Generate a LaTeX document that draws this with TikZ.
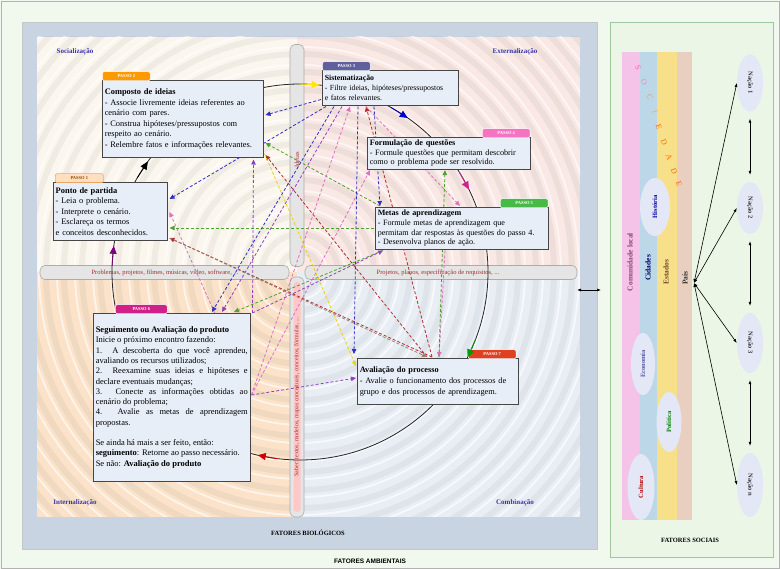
\documentclass[tikz,border=0pt]{standalone}
\usepackage{fontspec}
\setmainfont{Liberation Serif}
\newfontfamily\sansbold{Liberation Sans}
\usetikzlibrary{arrows.meta,calc,shapes.geometric,shadows}
\definecolor{bgmint}{HTML}{F1F8EE}
\definecolor{panelblue}{HTML}{C9D4E3}
\definecolor{qtl}{HTML}{FCF7EE}
\definecolor{qtr}{HTML}{FAE8E4}
\definecolor{qbl}{HTML}{FBE2C8}
\definecolor{qbr}{HTML}{E9EEF5}
\definecolor{boxfill}{HTML}{E8EEF8}
\definecolor{rightbg}{HTML}{EBF6E7}
\definecolor{labelblue}{HTML}{3A36A8}
\definecolor{barred}{HTML}{A03030}
\definecolor{ellfill}{HTML}{E3E7F6}
\definecolor{lblue}{HTML}{3030C0}
\definecolor{lpink}{HTML}{E070C0}
\definecolor{lgreen}{HTML}{50A030}
\definecolor{lred}{HTML}{B03030}
\definecolor{lpurple}{HTML}{9040C0}
\definecolor{lyellow}{HTML}{E8D020}
\definecolor{lbrown}{HTML}{A08070}
\definecolor{stpink}{HTML}{F5C2E8}
\definecolor{stblue}{HTML}{BCD8E8}
\definecolor{styellow}{HTML}{F8E08A}
\definecolor{stbeige}{HTML}{E8CFC0}
\pgfdeclarelayer{bg}
\pgfdeclarelayer{lines}
\pgfsetlayers{bg,lines,main}
\begin{document}
\begin{tikzpicture}[x=1pt,y=-1pt]
\tikzset{
  qlabel/.style={font=\fontsize{7}{8}\selectfont\bfseries, text=labelblue},
  bar/.style={draw=gray!65, fill=gray!20, rounded corners=5pt, line width=0.6pt},
  bartext/.style={font=\fontsize{6.5}{7}\selectfont, text=barred},
  stepbox/.style={draw=gray!55!black, line width=0.5pt, fill=boxfill, anchor=north west, inner sep=2.5pt, align=left, font=\fontsize{8.3}{10.3}\selectfont, drop shadow={opacity=0.25, shadow xshift=1.2pt, shadow yshift=-1.2pt}},
  tag/.style={rounded corners=2pt, draw=white, line width=0.6pt, minimum width=48pt, minimum height=9pt, inner sep=0pt, font=\fontsize{4.5}{5}\selectfont\bfseries, text=white, anchor=south west},
  conn/.style={dash pattern=on 3pt off 2pt, line width=0.8pt, -{Triangle[length=5pt,width=4.5pt]}},
  cirtip/.style={line width=0.8pt, -{Triangle[length=8pt,width=7pt]}},
  ell/.style={ellipse, fill=ellfill, inner sep=1pt, font=\fontsize{6.5}{7}\selectfont\bfseries},
  arr/.style={line width=0.6pt, {Latex[length=4pt,width=3pt]}-{Latex[length=4pt,width=3pt]}},
  stlabel/.style={rotate=90, font=\fontsize{7.5}{8}\selectfont\bfseries},
  soc/.style={rotate=-70, font=\fontsize{8}{8}\selectfont},
  fat/.style={font=\fontsize{6.5}{7}\selectfont\bfseries}
}
\useasboundingbox (0,0) rectangle (780,569);
\begin{pgfonlayer}{bg}
\fill[bgmint] (0,0) rectangle (780,569);
\draw[gray!60, line width=0.6pt] (1,1) rectangle (779,568);
\fill[panelblue] (22,22) rectangle (597,549);
\draw[gray!45] (22,22) rectangle (597,549);
\begin{scope}
\clip (37,37) rectangle (580,517);
\fill[qtl] (37,37) rectangle (297,272);
\fill[qtr] (297,37) rectangle (580,272);
\fill[qbl] (37,272) rectangle (297,517);
\fill[qbr] (297,272) rectangle (580,517);
\foreach \r in {20,38,...,430} \draw[gray, opacity=0.09, line width=6pt] (300,272) circle[radius=\r];
\foreach \r in {27,45,...,430} \draw[white, opacity=0.6, line width=2pt] (300,272) circle[radius=\r];
\end{scope}
\end{pgfonlayer}
\node[qlabel] (socl) at (75,52) {Socialização};
\node[qlabel] (extl) at (515,52) {Externalização};
\node[qlabel] (intl) at (75,503) {Internalização};
\node[qlabel] (coml) at (515,503) {Combinação};
\node[fat] (fbio) at (308,533) {FATORES BIOLÓGICOS};
\node[fat, font=\sansbold\fontsize{6.5}{7}\selectfont\bfseries] (famb) at (370,561) {FATORES AMBIENTAIS};
% ---------- bars and circle (background layer)
\begin{pgfonlayer}{bg}
\node[bar, minimum width=14pt, minimum height=222pt] (barT) at (297,155.5) {};
\node[bartext, rotate=90] (barTt) at (297,160) {Ideias};
\node[bar, minimum width=14pt, minimum height=240pt] (barB) at (297,397) {};
\fill[red!22, rounded corners=3pt] (293.5,282) rectangle (300.5,512);
\node[bartext, rotate=90, font=\fontsize{6}{7}\selectfont] (barBt) at (297,397) {Saber: textos, modelos, mapas conceituais, conceitos, fórmulas, ...};
\node[bar, minimum width=249pt, minimum height=14pt] (barL) at (164.5,272.5) {};
\node[bartext] (barLt) at (165,272.5) {Problemas, projetos, filmes, músicas, vídeo, software, ...};
\node[bar, minimum width=272pt, minimum height=14pt] (barR) at (441,272.5) {};
\node[bartext] (barRt) at (438,272.5) {Projetos, planos, especificação de requisitos, ...};
\coordinate (C) at (300,272);
\draw[black!85, line width=0.8pt] (C) circle[radius=188];
\end{pgfonlayer}
% ---------- boxes
\node[stepbox, font=\fontsize{8.4}{10.5}\selectfont, text width=156pt, minimum height=77pt] (comp) at (102,80) {\textbf{Composto de ideias}\\- Associe livremente ideias referentes ao\\cenário com pares.\\- Construa hipóteses/pressupostos com\\respeito ao cenário.\\- Relembre fatos e informações relevantes.};
\node[stepbox, font=\fontsize{7.8}{10}\selectfont, text width=131pt, minimum height=35pt] (sist) at (322,70) {\textbf{Sistematização}\\- Filtre ideias, hipóteses/pressupostos\\e fatos relevantes.};
\node[stepbox, font=\fontsize{8.2}{9.6}\selectfont, text width=158pt, minimum height=31pt] (form) at (367,137) {\textbf{Formulação de questões}\\- Formule questões que permitam descobrir\\como o problema pode ser resolvido.};
\node[stepbox, font=\fontsize{8.1}{9.8}\selectfont, text width=168pt, minimum height=42pt] (metas) at (375,207) {\textbf{Metas de aprendizagem}\\- Formule metas de aprendizagem que\\permitam dar respostas às questões do passo 4.\\- Desenvolva planos de ação.};
\node[stepbox, font=\fontsize{8.4}{10.5}\selectfont, text width=109pt, minimum height=58pt] (ponto) at (53,182) {\textbf{Ponto de partida}\\- Leia o problema.\\- Interprete o cenário.\\- Esclareça os termos\\e conceitos desconhecidos.};
\node[stepbox, font=\fontsize{8.5}{10.3}\selectfont, text width=152pt, minimum height=168pt, align=justify] (seg) at (93,313) {\textbf{Seguimento ou Avaliação do produto}\par Inicie o próximo encontro fazendo:\par 1. A descoberta do que você aprendeu,\linebreak avaliando os recursos utilizados;\par 2. Reexamine suas ideias e hipóteses e\linebreak declare eventuais mudanças;\par 3. Conecte as informações obtidas ao\linebreak cenário do problema;\par 4. Avalie as metas de aprendizagem\linebreak propostas.\par\vspace{10pt}Se ainda há mais a ser feito, então:\par\textbf{seguimento}: Retorne ao passo necessário.\par Se não: \textbf{Avaliação do produto}};
\node[stepbox, font=\fontsize{8.3}{11}\selectfont, text width=156pt, minimum height=46pt] (aval) at (357,358) {\textbf{Avaliação do processo}\\- Avalie o funcionamento dos processos de\\grupo e dos processos de aprendizagem.};
% ---------- anchor points
\coordinate (P1) at ($(ponto.north east)+(2,17)$);
\coordinate (P2) at ($(ponto.north east)+(2,30)$);
\coordinate (P3) at ($(ponto.north east)+(2,46)$);
\coordinate (P4) at ($(ponto.north east)+(2,56)$);
\coordinate (C1) at ($(comp.north east)+(2,35)$);
\coordinate (C2) at ($(comp.north east)+(2,63)$);
\coordinate (C3) at ($(comp.north east)+(2,75)$);
\coordinate (C4) at ($(comp.south east)+(-10,2)$);
\coordinate (C5) at ($(comp.south east)+(1,-4)$);
\coordinate (S0) at ($(sist.south west)+(-1,-6)$);
\coordinate (S1) at ($(sist.south west)+(4,1)$);
\coordinate (S2) at ($(sist.south west)+(12,1)$);
\coordinate (S3) at ($(sist.south west)+(20,1)$);
\coordinate (S4) at ($(sist.south west)+(28,1)$);
\coordinate (S5) at ($(sist.south west)+(36,1)$);
\coordinate (S6) at ($(sist.south west)+(44,1)$);
\coordinate (S7) at ($(sist.south west)+(52,1)$);
\coordinate (F1) at ($(form.south west)+(3,1)$);
\coordinate (F2) at ($(form.south west)+(78,1)$);
\coordinate (M1) at ($(metas.north west)+(-1,21)$);
\coordinate (M2) at ($(metas.north west)+(5,-1)$);
\coordinate (M3) at ($(metas.south west)+(8,1)$);
\coordinate (M4) at ($(metas.south west)+(70,1)$);
\coordinate (M5) at ($(metas.north west)+(85,-1)$);
\coordinate (G1) at ($(seg.north east)+(1,82)$);
\coordinate (G2) at ($(seg.north west)+(119,-1)$);
\coordinate (G3) at ($(seg.north west)+(129,-1)$);
\coordinate (G4) at ($(seg.north west)+(141,-1)$);
\coordinate (G5) at ($(seg.north east)+(2,0)$);
\coordinate (A1) at ($(aval.north west)+(75,-1)$);
\coordinate (A2) at ($(aval.north west)+(-3,-4)$);
\coordinate (A3) at ($(aval.north west)+(-1,8)$);
\coordinate (A4) at ($(aval.north west)+(-1,20)$);
\coordinate (A5) at ($(aval.north west)+(70,-1)$);
\coordinate (A6) at ($(aval.north west)+(82,-1)$);
% ---------- dashed connectors (behind boxes)
\begin{pgfonlayer}{lines}
\draw[conn, lblue] (S1) -- (P1);
\draw[conn, lpink] (G1) -- (P2);
\draw[conn, lgreen] (M1) -- (P3);
\draw[conn, lred] (A1) -- (P4);
\draw[conn, lblue] (S0) -- (C1);
\draw[conn, lgreen] (M2) -- (C2);
\draw[conn, lred] (A5) -- (C3);
\draw[conn, lpurple] (G5) -- (C4);
\draw[conn, lblue] (S2) -- (G2);
\draw[conn, lpurple] (S3) -- (G3);
\draw[conn, lgreen] (M3) -- (G4);
\draw[conn, lpink] (G1) -- (S4);
\draw[conn, lpink] (G1) -- (F1);
\draw[conn, lpurple] (G1) -- (A4);
\draw[conn, lblue] (S5) -- (A2);
\draw[conn, lyellow] (C5) -- (A3);
\draw[conn, lpink] (M4) -- (A6);
\draw[conn, lred] (A1) -- (S6);
\draw[conn, lblue] (S7) -- (M2);
\draw[conn, lgreen] (A6) -- (F2);
\draw[conn, lpink] (S6) -- (M5);
\draw[conn, lpurple] (G5) -- (M3);
\draw[conn, lbrown] (P4) -- (A5);
\end{pgfonlayer}
% ---------- tags
\node[tag, fill=orange!80!yellow] (t2) at ($(comp.north west)+(0,1)$) {PASSO 2};
\node[tag, fill=blue!25!gray] (t3) at ($(sist.north west)+(0,1)$) {PASSO 3};
\node[tag, fill=magenta!55, anchor=south east] (t4) at ($(form.north east)+(0,1)$) {PASSO 4};
\node[tag, fill=green!45!gray, anchor=south east] (t5) at ($(metas.north east)+(0,1)$) {PASSO 5};
\node[tag, fill=orange!25, draw=orange!70, text=orange!60!black] (t1) at ($(ponto.north west)+(2,1)$) {PASSO 1};
\node[tag, fill=magenta!70!violet, minimum width=52pt] (t6) at ($(seg.north west)+(22,1)$) {PASSO 6};
\node[tag, fill=red!50!brown, anchor=south east] (t7) at ($(aval.north east)+(-2,1)$) {PASSO 7};
% ---------- circle arrow tips
\draw[cirtip, violet] ($(C)+(182:188)$) -- ($(C)+(188:188)$);
\draw[cirtip, black] ($(C)+(210:188)$) -- ($(C)+(216:188)$);
\draw[cirtip, yellow!90!orange] ($(C)+(270:188)$) -- ($(C)+(276:188)$);
\draw[cirtip, blue!80!black] ($(C)+(299:188)$) -- ($(C)+(305:188)$);
\draw[cirtip, magenta!70!violet] ($(C)+(328:188)$) -- ($(C)+(334:188)$);
\draw[cirtip, green!60!black] ($(C)+(21:188)$) -- ($(C)+(27:188)$);
\draw[cirtip, red!80!black] ($(C)+(97:188)$) -- ($(C)+(103:188)$);
% ---------- right panel
\begin{pgfonlayer}{bg}
\fill[rightbg] (610,22) rectangle (773,557);
\draw[green!25!gray!60] (610,22) rectangle (773,557);
\fill[stpink] (622,52) rectangle (640,520);
\fill[stblue] (640,52) rectangle (657,520);
\fill[styellow] (657,52) rectangle (677,520);
\fill[stbeige] (677,52) rectangle (692,520);
\end{pgfonlayer}
\node[stlabel, text=magenta!50!black] (cl) at (630,262) {Comunidade local};
\node[stlabel, text=blue!40!black] (cid) at (648,268) {Cidades};
\node[stlabel, text=brown!60!black] (est) at (666,272) {Estados};
\node[stlabel, text=black!80] (pais) at (685,278) {País};
\node[soc, text=magenta!60] (s1) at (638,68) {S};
\node[soc, text=magenta!50] (s2) at (644,82) {O};
\node[soc, text=brown!70] (s3) at (650,97) {C};
\node[soc, text=orange!70] (s4) at (655,112) {I};
\node[soc, text=orange!80!red] (s5) at (659,127) {E};
\node[soc, text=orange!80!red] (s6) at (664,142) {D};
\node[soc, text=orange!80!red] (s7) at (669,157) {A};
\node[soc, text=orange!80!red] (s8) at (674,171) {D};
\node[soc, text=orange!80!red] (s9) at (679,184) {E};
\node[ell, rotate=90, minimum width=58pt, minimum height=30pt, text=blue!60!black] (hist) at (655,207) {História};
\node[ell, rotate=90, minimum width=62pt, minimum height=24pt, text=gray!70!blue] (eco) at (643,364) {Economia};
\node[ell, rotate=90, minimum width=60pt, minimum height=25pt, text=green!50!black] (pol) at (669,422) {Política};
\node[ell, rotate=90, minimum width=66pt, minimum height=27pt, text=red!70!black] (cult) at (641,487) {Cultura};
\node[ell, rotate=-90, minimum width=57pt, minimum height=26pt, text=black!75] (n1) at (750,83) {Nação 1};
\node[ell, rotate=-90, minimum width=52pt, minimum height=26pt, text=black!75] (n2) at (750,208) {Nação 2};
\node[ell, rotate=-90, minimum width=60pt, minimum height=26pt, text=black!75] (n3) at (750,343) {Nação 3};
\node[ell, rotate=-90, minimum width=64pt, minimum height=26pt, text=black!75] (nn) at (750,485) {Nação n};
\coordinate (pa) at (694,283);
\draw[arr] (pa) -- (n1.south);
\draw[arr] (pa) -- (n2.south);
\draw[arr] (pa) -- (n3.south);
\draw[arr] (pa) -- (nn.south);
\draw[arr, shorten <=7pt, shorten >=7pt] (n1.east) -- (n2.west);
\draw[arr, shorten <=7pt, shorten >=7pt] (n2.east) -- (n3.west);
\draw[arr, shorten <=7pt, shorten >=7pt] (n3.east) -- (nn.west);
\node[fat] (fsoc) at (690,540) {FATORES SOCIAIS};
\coordinate (lp) at (577,290);
\coordinate (rp) at (601,290);
\draw[arr] (lp) -- (rp);
\end{tikzpicture}
\end{document}
